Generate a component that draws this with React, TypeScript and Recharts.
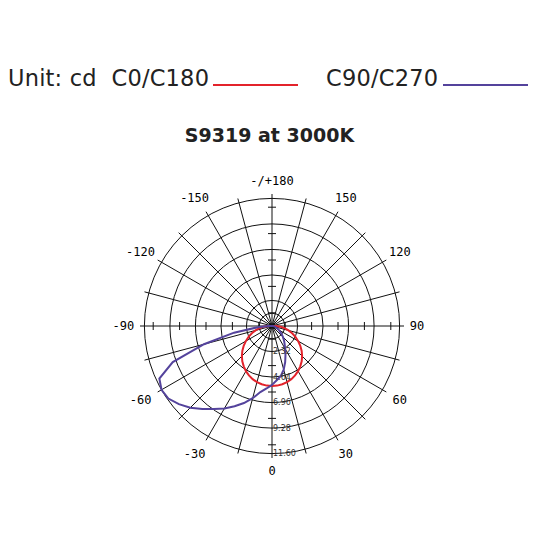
import React from 'react';
import { RadarChart, Radar, PolarGrid, PolarAngleAxis, PolarRadiusAxis } from 'recharts';

// gamma angles (deg from nadir), negative = left half
const gammaAngles = [
  -90, -85, -80, -75, -70, -65, -60, -55, -50, -45, -40, -35, -30, -25, -20, -15, -10, -5,
  0, 5, 10, 15, 20, 25, 30, 35, 40, 45, 50, 55, 60, 65, 70, 75, 80, 85, 90,
];

// intensity (cd)
const c0c180 = [
  0.3, 0.8, 1.2, 1.55, 1.95, 2.35, 2.75, 3.14, 3.52, 3.87, 4.2, 4.48, 4.74, 4.96, 5.14, 5.28, 5.38, 5.44,
  5.46, 5.44, 5.38, 5.28, 5.14, 4.96, 4.74, 4.48, 4.2, 3.87, 3.52, 3.14, 2.75, 2.35, 1.95, 1.55, 1.2, 0.8, 0.3,
];
const c90c270 = [
  0.3, 1.3, 3.5, 6.4, 9.6, 11.3, 11.6, 11.5, 11.05, 10.5, 9.85, 9.2, 8.65, 8.05, 7.45, 6.8, 6.1, 5.7,
  5.35, 4.95, 4.6, 4.1, 3.5, 2.9, 2.4, 2.0, 1.7, 1.4, 1.15, 0.9, 0.7, 0.55, 0.4, 0.3, 0.2, 0.1, 0.05,
];

const seriesNames = ['C0/C180', 'C90/C270'];
const seriesColors = ['#e3232b', '#54439c'];

const ringValues = [1.16, 2.32, 4.64, 6.96, 9.28, 11.6];
const ringLabels = ['', '2.32', '4.64', '6.96', '9.28', '11.60'];
const halfTickValues = [1.16, 3.48, 5.8, 8.12, 10.44];

const spokeAngles = [0, 15, 30, 45, 60, 75, 90, 105, 120, 135, 150, 165, 180, 195, 210, 225, 240, 255, 270, 285, 300, 315, 330, 345];
const labelAngles = [0, 30, 60, 90, 120, 150, 180, 210, 240, 270, 300, 330];
const angleLabels = ['0', '30', '60', '90', '120', '150', '-/+180', '-150', '-120', '-90', '-60', '-30'];

const CX = 272;
const CY = 326;
const OUTER_R = 132;
const MAX_CD = 11.6;
const LABEL_R = 145;

const table = gammaAngles
  .map((g, i) => ({ angle: (g + 360) % 360, c0: c0c180[i], c90: c90c270[i] }))
  .sort((a, b) => a.angle - b.angle);

const AngleTick = ({ x, y, payload }: any) => {
  const idx = labelAngles.indexOf(payload.value);
  if (idx < 0) return null;
  const dx = x - CX;
  const dy = y - CY;
  const len = Math.sqrt(dx * dx + dy * dy) || 1;
  const label = angleLabels[idx];
  const ux = dx / len;
  const uy = dy / len;
  // diagonal labels sit a little further out
  const r = LABEL_R + Math.abs(ux * uy) * 6;
  const shift = label.startsWith('-') && label !== '-/+180' ? -3.6 : 0;
  return (
    <text
      x={CX + ux * r + shift}
      y={CY + uy * r}
      textAnchor="middle"
      dominantBaseline="central"
      fontFamily="'DejaVu Sans Mono', monospace"
      fontSize={12}
      fill="#000"
    >
      {label}
    </text>
  );
};

const RingTick = ({ x, y, payload }: any) => {
  const idx = ringValues.indexOf(payload.value);
  const label = idx >= 0 ? ringLabels[idx] : '';
  if (!label) return null;
  return (
    <text x={x + 1} y={y} dominantBaseline="central" fontFamily="'DejaVu Sans', sans-serif" fontSize={8} fill="#333">
      {label}
    </text>
  );
};

// small marks on the cross axes between rings
const AxisMarks = () => {
  const marks: React.ReactNode[] = [];
  halfTickValues.forEach((v, i) => {
    const r = (v / MAX_CD) * OUTER_R;
    marks.push(<line key={`l${i}`} x1={CX - r} x2={CX - r} y1={CY - 4} y2={CY + 4} stroke="#111" />);
    marks.push(<line key={`r${i}`} x1={CX + r} x2={CX + r} y1={CY - 4} y2={CY + 4} stroke="#111" />);
    marks.push(<line key={`t${i}`} x1={CX - 4} x2={CX + 4} y1={CY - r} y2={CY - r} stroke="#111" />);
    marks.push(<line key={`b${i}`} x1={CX - 4} x2={CX + 4} y1={CY + r} y2={CY + r} stroke="#111" />);
  });
  return <g>{marks}</g>;
};

const App = () => {
  return (
    <div style={{ position: 'absolute', left: 0, top: 0, width: 539, height: 539, background: '#fff' }}>
      {/* legend */}
      <div
        style={{
          position: 'absolute',
          left: 8,
          top: 67,
          fontFamily: "'DejaVu Sans', sans-serif",
          fontSize: 22.5,
          lineHeight: '22.5px',
          letterSpacing: 0.2,
          color: '#222',
          whiteSpace: 'pre',
        }}
      >
        {'Unit: cd  ' + seriesNames[0]}
      </div>
      <div style={{ position: 'absolute', left: 213, top: 84, width: 85, height: 2, background: seriesColors[0] }} />
      <div
        style={{
          position: 'absolute',
          left: 326,
          top: 67,
          fontFamily: "'DejaVu Sans', sans-serif",
          fontSize: 22.5,
          lineHeight: '22.5px',
          letterSpacing: 0.2,
          color: '#222',
          whiteSpace: 'pre',
        }}
      >
        {seriesNames[1]}
      </div>
      <div style={{ position: 'absolute', left: 443, top: 84, width: 85, height: 2, background: seriesColors[1] }} />

      {/* title */}
      <div
        style={{
          position: 'absolute',
          left: 0,
          width: 539,
          top: 126,
          textAlign: 'center',
          fontFamily: "'DejaVu Sans', sans-serif",
          fontWeight: 'bold',
          fontSize: 19,
          lineHeight: '19px',
          color: '#222',
        }}
      >
        S9319 at 3000K
      </div>

      <div style={{ position: 'absolute', left: 0, top: 0 }}>
        <RadarChart
          width={539}
          height={539}
          data={table}
          cx={CX}
          cy={CY}
          outerRadius={OUTER_R}
          startAngle={-90}
          endAngle={270}
          margin={{ top: 0, right: 0, bottom: 0, left: 0 }}
        >
          <PolarGrid gridType="circle" stroke="#111" strokeWidth={1} />
          <PolarAngleAxis
            dataKey="angle"
            type="number"
            domain={[0, 360]}
            ticks={spokeAngles}
            axisLine={false}
            tickLine={false}
            tick={<AngleTick />}
          />
          <PolarRadiusAxis
            angle={-90}
            type="number"
            domain={[0, MAX_CD]}
            ticks={ringValues}
            axisLine={false}
            tickLine={false}
            tick={<RingTick />}
          />
          <AxisMarks />
          <Radar
            name={seriesNames[0]}
            dataKey="c0"
            stroke={seriesColors[0]}
            strokeWidth={2}
            fill="none"
            fillOpacity={0}
            dot={false}
            isAnimationActive={false}
          />
          <Radar
            name={seriesNames[1]}
            dataKey="c90"
            stroke={seriesColors[1]}
            strokeWidth={2}
            fill="none"
            fillOpacity={0}
            dot={false}
            isAnimationActive={false}
          />
        </RadarChart>
      </div>
    </div>
  );
};

export default App;
